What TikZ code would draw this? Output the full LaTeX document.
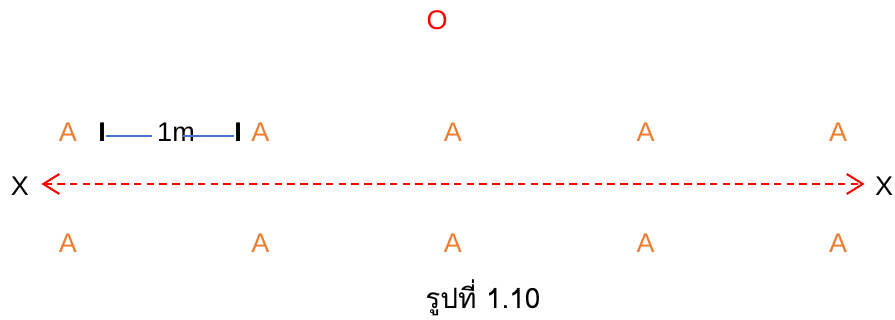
\documentclass[tikz,border=0pt]{standalone}
\usepackage{fontspec}
\setmainfont{Liberation Sans}
\newfontfamily\thaifont[Script=Thai]{Loma}
\usetikzlibrary{arrows.meta,calc}
\definecolor{orangeA}{RGB}{237,125,49}
\definecolor{lineblue}{RGB}{68,114,196}
\definecolor{redO}{RGB}{255,0,0}

\begin{document}
\begin{tikzpicture}[x=0.5pt,y=-0.5pt,font=\fontsize{13.5}{16}\selectfont,
    ptA/.style={text=orangeA,inner sep=0pt},
    endmark/.style={inner sep=0pt},
    scaleline/.style={lineblue,line width=0.6pt},
    axis/.style={redO,line width=1pt,dash pattern=on 3.8pt off 2.6pt,
      {Straight Barb[length=8pt,width=10pt]}-{Straight Barb[length=8pt,width=10pt]},
      shorten <=6pt,shorten >=5pt}]
  \useasboundingbox (0,0) rectangle (895,320);
  % point O
  \node[text=redO,inner sep=0pt] (pO) at (437,20) {O};
  % rows of A
  \foreach \i in {1,...,5} {
    \node[ptA] (up\i) at ({68+(\i-1)*192.5},132) {A};
    \node[ptA] (dn\i) at ({68+(\i-1)*192.5},243) {A};
  }
  % scale 1m
  \node[endmark] (barL) at (102,132) {\textbf{I}};
  \node[endmark] (barR) at (238,132) {\textbf{I}};
  \node[inner sep=0pt] (len) at (176,132) {1m};
  \draw[scaleline] ($(barL.east)+(0,4)$) -- ($(barL.east -| len.west)+(-5,4)$);
  \draw[scaleline] ($(barR.west)+(0,4)$) -- ($(barR.west -| len.east)+(-12,4)$);
  % line XX
  \node[inner sep=0pt] (xL) at (20,186) {X};
  \node[inner sep=0pt] (xR) at (884,186) {X};
  \draw[axis] ([yshift=1pt]xL.east) -- ([yshift=1pt]xR.west);
  % caption
  \node[inner sep=0pt] (cap) at (483,298) {\thaifont\fontsize{14}{17}\selectfont รูปที่ 1.10};
\end{tikzpicture}
\end{document}
